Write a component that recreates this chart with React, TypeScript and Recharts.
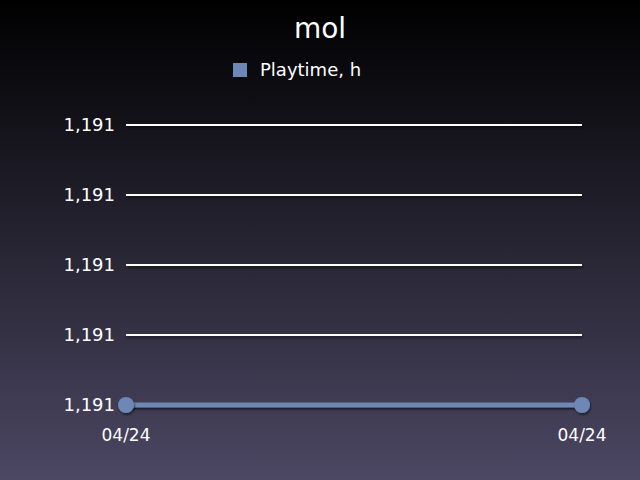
import React from 'react'
import { LineChart, Line, XAxis, YAxis, CartesianGrid } from 'recharts'

const TITLE = 'mol'
const SERIES_NAME = 'Playtime, h'
const dates = ['04/24', '04/24']
const playtime = [1191, 1191]
const yTicks = [1191, 1191.1, 1191.2, 1191.3, 1191.4]

const LINE_COLOR = '#6d87b6'
const FONT = '"DejaVu Sans", Verdana, sans-serif'

const data = dates.map((d, i) => ({ date: d, value: playtime[i] }))

const fmt = (v: number) => Math.round(v).toLocaleString('en-US')

export default function App() {
  return (
    <div
      style={{
        position: 'absolute', left: 0, top: 0, width: 640, height: 480,
        background: 'linear-gradient(#000000, #4c4763)',
        fontFamily: FONT, color: '#fff',
      }}
    >
      <div style={{ position: 'absolute', top: 11, left: 0, width: 640, textAlign: 'center', fontSize: 28, lineHeight: '36px' }}>
        {TITLE}
      </div>
      <div style={{ position: 'absolute', top: 59, left: 233, display: 'flex', alignItems: 'center', fontSize: 18, lineHeight: '22px' }}>
        <span style={{ display: 'inline-block', width: 14, height: 14, background: LINE_COLOR, marginRight: 13 }} />
        <span>{SERIES_NAME}</span>
      </div>
      <LineChart
        width={640}
        height={480}
        data={data}
        margin={{ top: 125, right: 58, left: 0, bottom: 0 }}
        style={{ position: 'absolute', left: 0, top: 0 }}
      >
        <defs>
          <filter id="shadow" filterUnits="userSpaceOnUse" x="0" y="0" width="640" height="480">
            <feDropShadow dx="1" dy="2" stdDeviation="1" floodColor="#000" floodOpacity="0.5" />
          </filter>
        </defs>
        <CartesianGrid vertical={false} stroke="#ffffff" strokeWidth={2} filter="url(#shadow)" />
        <XAxis
          dataKey="date"
          axisLine={false}
          tickLine={false}
          tickSize={0}
          tickMargin={24}
          height={75}
          padding={{ left: 0, right: 0 }}
          tick={{ fill: '#ffffff', fontSize: 17, fontFamily: FONT }}
          interval={0}
        />
        <YAxis
          type="number"
          domain={[1191, 1191.4]}
          ticks={yTicks}
          tickFormatter={fmt}
          axisLine={false}
          tickLine={false}
          tickSize={0}
          tickMargin={11}
          width={126}
          tick={{ fill: '#ffffff', fontSize: 18, fontFamily: FONT }}
        />
        <Line
          dataKey="value"
          stroke={LINE_COLOR}
          strokeWidth={5}
          filter="url(#shadow)"
          dot={{ r: 8, fill: LINE_COLOR, stroke: 'none', filter: 'url(#shadow)' }}
          isAnimationActive={false}
        />
      </LineChart>
    </div>
  )
}
